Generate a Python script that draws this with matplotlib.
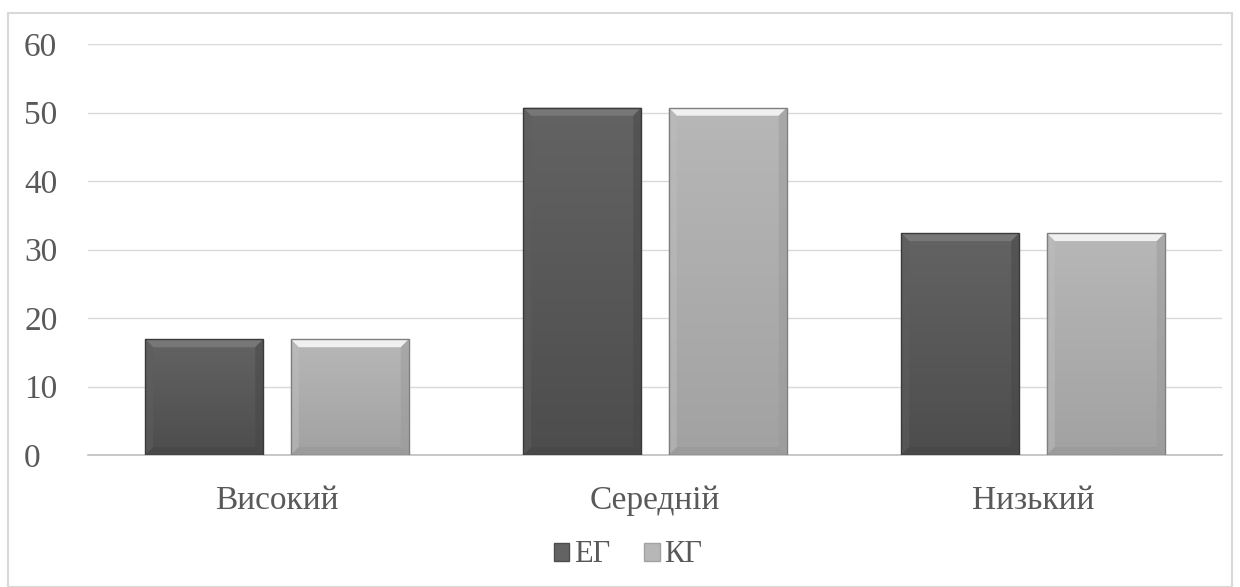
import matplotlib

matplotlib.use("Agg")
import matplotlib.pyplot as plt
import numpy as np
from matplotlib.patches import Polygon, Rectangle

categories = ["Високий", "Середній", "Низький"]
series_names = ["ЕГ", "КГ"]
eg_values = [16.9, 50.7, 32.4]
kg_values = [16.9, 50.7, 32.4]
y_ticks = [0, 10, 20, 30, 40, 50, 60]

TOP = {"ЕГ": "#636363", "КГ": "#b7b7b7"}
BOTTOM = {"ЕГ": "#4d4d4d", "КГ": "#a2a2a2"}
FONT = ["Liberation Serif", "DejaVu Serif"]
TEXT = "#595959"

plt.rcParams["font.family"] = FONT

fig = plt.figure(figsize=(12.4, 5.87), dpi=100)
fig.patches.append(Rectangle((8 / 1240, 0), 1 - 16 / 1240, 1 - 13 / 587,
                             transform=fig.transFigure, fill=False,
                             edgecolor="#d9d9d9", linewidth=1.5))
ax = fig.add_axes([88 / 1240, 1 - 455 / 587, (1222 - 88) / 1240, 411 / 587])

x = np.arange(len(categories))
width = 0.312
offset = 0.1925


def bevel(ax, bar, name, px_w, px_h):
    x0, y0 = bar.get_x(), bar.get_y()
    w, h = bar.get_width(), bar.get_height()
    x1, y1 = x0 + w, y0 + h
    bx, by = 8 * px_w, 8 * px_h
    # vertical gradient inside the bar
    grad = np.linspace(0, 1, 100).reshape(-1, 1)
    cmap = matplotlib.colors.LinearSegmentedColormap.from_list("g", [BOTTOM[name], TOP[name]])
    im = ax.imshow(grad, extent=(x0, x1, y0, y1), origin="lower", aspect="auto",
                   cmap=cmap, zorder=3)
    im.set_clip_path(bar)
    light = "#ffffff" if name == "КГ" else "#7d7d7d"
    side_l = "#bdbdbd" if name == "КГ" else "#5e5e5e"
    side_r = "#9a9a9a" if name == "КГ" else "#474747"
    dark = "#959595" if name == "КГ" else "#454545"
    polys = [
        ([(x0, y1), (x1, y1), (x1 - bx, y1 - by), (x0 + bx, y1 - by)], light, 0.8),
        ([(x0, y0), (x0, y1), (x0 + bx, y1 - by), (x0 + bx, y0 + by)], side_l, 0.5),
        ([(x1, y0), (x1, y1), (x1 - bx, y1 - by), (x1 - bx, y0 + by)], side_r, 0.5),
        ([(x0, y0), (x1, y0), (x1 - bx, y0 + by), (x0 + bx, y0 + by)], dark, 0.5),
    ]
    for pts, c, a in polys:
        ax.add_patch(Polygon(pts, closed=True, facecolor=c, edgecolor="none",
                             alpha=a, zorder=4))
    edge = "#7f7f7f" if name == "КГ" else "#3a3a3a"
    ax.add_patch(Rectangle((x0, y0), w, h, fill=False,
                           edgecolor=edge, linewidth=1.0, zorder=5))


ax.set_xlim(-0.5, 2.5)
ax.set_ylim(0, 60)
px_w = 3.0 / 1134
px_h = 60 / 411

for name, vals, sign in [("ЕГ", eg_values, -1), ("КГ", kg_values, 1)]:
    bars = ax.bar(x + sign * offset, vals, width, color=TOP[name], label=name,
                  zorder=2, edgecolor="none")
    for b in bars:
        bevel(ax, b, name, px_w, px_h)

ax.set_yticks(y_ticks)
ax.set_xticks(x)
ax.set_xticklabels(categories)
ax.yaxis.grid(True, color="#d9d9d9", linewidth=1)
ax.set_axisbelow(True)
for s in ["top", "right", "left"]:
    ax.spines[s].set_visible(False)
ax.spines["bottom"].set_color("#bfbfbf")
ax.spines["bottom"].set_linewidth(1.2)
ax.tick_params(axis="both", length=0, labelsize=24, colors=TEXT)
ax.tick_params(axis="y", pad=46)
ax.tick_params(axis="x", pad=22)
for lab in ax.get_yticklabels():
    lab.set_horizontalalignment("left")

handles = [Rectangle((0, 0), 1, 1, facecolor=TOP[n], edgecolor=BOTTOM[n]) for n in series_names]
fig.legend(handles, series_names, loc="center", bbox_to_anchor=(628 / 1240, 1 - 555 / 587),
           ncol=2, frameon=False, fontsize=22, handlelength=0.52, handleheight=0.52,
           handletextpad=0.16, columnspacing=1.08, labelcolor=TEXT)

fig.savefig("out.png", dpi=100)
